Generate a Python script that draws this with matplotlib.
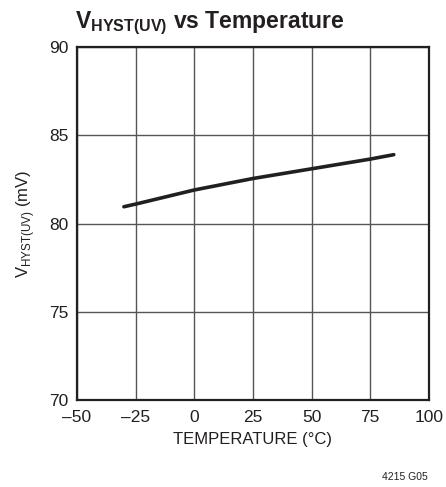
import matplotlib
matplotlib.use("Agg")
import matplotlib.pyplot as plt

# data
temperature = [-30, -25, 0, 25, 50, 75, 85]
v_hyst = [80.95, 81.1, 81.9, 82.55, 83.1, 83.65, 83.9]

x_ticks = [-50, -25, 0, 25, 50, 75, 100]
y_ticks = [70, 75, 80, 85, 90]

font = "Liberation Sans"
plt.rcParams["font.family"] = [font, "DejaVu Sans"]
plt.rcParams["mathtext.fontset"] = "custom"
plt.rcParams["mathtext.rm"] = font
plt.rcParams["mathtext.bf"] = font + ":bold"

ink = "#231f20"

fig = plt.figure(figsize=(4.46, 4.87), dpi=100)
ax = fig.add_axes([0.1726, 0.1786, 0.7892, 0.7249])

ax.plot(temperature, v_hyst, color=ink, linewidth=2.6, solid_capstyle="round")

ax.set_xlim(-50, 100)
ax.set_ylim(70, 90)
ax.set_xticks(x_ticks)
ax.set_yticks(y_ticks)
ax.set_xticklabels([str(t).replace("-", "\u2013") for t in x_ticks])
ax.grid(True, color="#555555", linewidth=1.0)
ax.tick_params(length=0, labelsize=12.5, colors=ink)
ax.tick_params(axis="x", pad=7)
ax.tick_params(axis="y", pad=6)
for s in ax.spines.values():
    s.set_linewidth(1.6)
    s.set_color(ink)

ax.set_xlabel("TEMPERATURE (°C)", fontsize=12, color=ink, labelpad=5)
ax.set_ylabel(r"V$_{\mathrm{HYST(UV)}}$ (mV)", fontsize=12, color=ink, labelpad=9)

fig.text(0.168, 0.943, r"V$_{\mathbf{HYST(UV)}}$ vs Temperature", fontsize=16.5,
         fontweight="bold", color=ink, ha="left", va="baseline")
fig.text(0.96, 0.015, "4215 G05", fontsize=7.5, color=ink, ha="right", va="baseline")

fig.savefig("out.png", dpi=100)
plt.close(fig)
